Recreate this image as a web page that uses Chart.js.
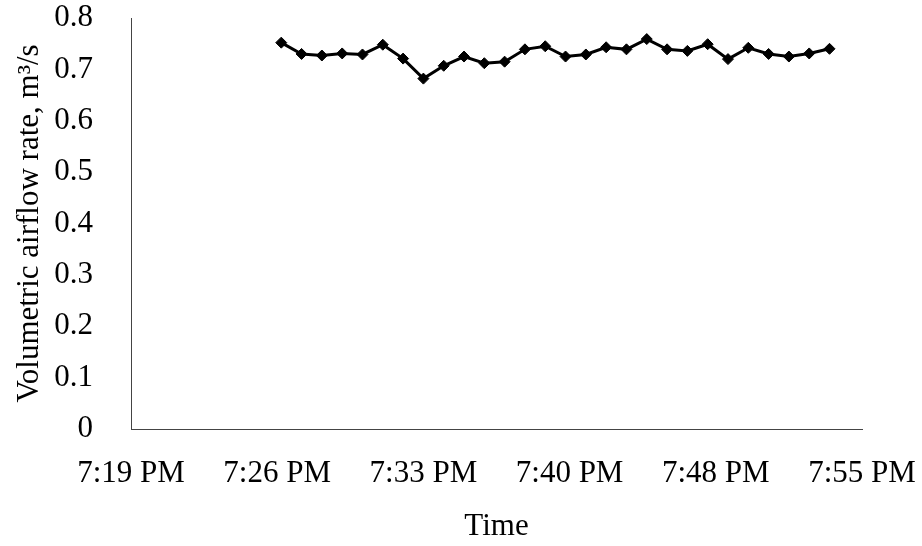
<!DOCTYPE html>
<html>
<head>
<meta charset="utf-8">
<script src="https://cdn.jsdelivr.net/npm/chart.js@4.4.1/dist/chart.umd.min.js"></script>
<style>
  html, body { margin: 0; padding: 0; background: #fff; }
  #wrap { width: 922px; height: 546px; position: relative; }
</style>
</head>
<body>
<div id="wrap"><canvas id="grafico"></canvas></div>
<script>
// sample times (one reading per minute)
const times = [
  "19:26:36", "19:27:36", "19:28:36", "19:29:36", "19:30:36", "19:31:36", "19:32:36",
  "19:33:36", "19:34:36", "19:35:36", "19:36:36", "19:37:36", "19:38:36", "19:39:36",
  "19:40:36", "19:41:36", "19:42:36", "19:43:36", "19:44:36", "19:45:36", "19:46:36",
  "19:47:36", "19:48:36", "19:49:36", "19:50:36", "19:51:36", "19:52:36", "19:53:36"
];
// volumetric airflow rate, m3/s
const airflow = [
  0.752, 0.730, 0.727, 0.731, 0.729, 0.748, 0.721,
  0.682, 0.707, 0.725, 0.712, 0.715, 0.739, 0.745,
  0.725, 0.729, 0.743, 0.739, 0.759, 0.739, 0.736,
  0.749, 0.720, 0.742, 0.730, 0.725, 0.731, 0.740
];
// x axis ticks, minutes since midnight (Excel major unit 0.005 day)
const tickMinutes = [1159.2, 1166.4, 1173.6, 1180.8, 1188.0, 1195.2];
const tickLabels = ["7:19 PM", "7:26 PM", "7:33 PM", "7:40 PM", "7:48 PM", "7:55 PM"];
const yTicks = [0, 0.1, 0.2, 0.3, 0.4, 0.5, 0.6, 0.7, 0.8];

function toMinutes(t) {
  const p = t.split(":").map(Number);
  return p[0] * 60 + p[1] + p[2] / 60;
}

const puntos = times.map((t, i) => ({ x: toMinutes(t), y: airflow[i] }));
const fuente = "'Liberation Serif', 'Times New Roman', serif";

// sin relleno automatico de las escalas, el area la fija layout.padding
function sinPadding(s) {
  s.paddingTop = 0;
  s.paddingBottom = 0;
  s.paddingLeft = 0;
  s.paddingRight = 0;
}

const ctx = document.getElementById("grafico").getContext("2d");
new Chart(ctx, {
  type: "line",
  data: {
    datasets: [
      {
        data: puntos,
        borderColor: "#000",
        backgroundColor: "#000",
        borderWidth: 3,
        pointStyle: "rectRot",
        pointRadius: 5.5,
        pointBorderWidth: 1,
        tension: 0,
        clip: false,
      },
    ],
  },
  options: {
    responsive: true,
    maintainAspectRatio: false,
    animation: false,
    layout: { padding: { top: 18, right: 60, left: 0, bottom: 0 } },
    plugins: { legend: { display: false }, tooltip: { enabled: false } },
    scales: {
      x: {
        type: "linear",
        min: tickMinutes[0],
        max: tickMinutes[tickMinutes.length - 1],
        afterBuildTicks: (s) => { s.ticks = tickMinutes.map((v) => ({ value: v })); },
        afterFit: (s) => { s.height = 117; sinPadding(s); },
        grid: { display: false, drawTicks: false },
        border: { display: true, color: "#444", width: 1 },
        ticks: {
          autoSkip: false,
          maxRotation: 0,
          padding: 26,
          color: "#000",
          font: { family: fuente, size: 31 },
          callback: (v, i) => tickLabels[i],
        },
        title: {
          display: true,
          text: "Time",
          color: "#000",
          font: { family: fuente, size: 31 },
          padding: { top: 0, bottom: 1 },
        },
      },
      y: {
        min: 0,
        max: 0.8,
        afterBuildTicks: (s) => { s.ticks = yTicks.map((v) => ({ value: v })); },
        afterFit: (s) => { s.width = 131; sinPadding(s); },
        grid: { display: false, drawTicks: false },
        border: { display: true, color: "#444", width: 1 },
        ticks: {
          padding: 38,
          color: "#000",
          font: { family: fuente, size: 31 },
          callback: (v) => (v === 0 ? "0" : v.toFixed(1)),
        },
        title: {
          display: true,
          text: "Volumetric airflow rate, m³/s",
          color: "#000",
          font: { family: fuente, size: 31 },
          padding: { top: 11, bottom: 0 },
        },
      },
    },
  },
});
</script>
</body>
</html>
